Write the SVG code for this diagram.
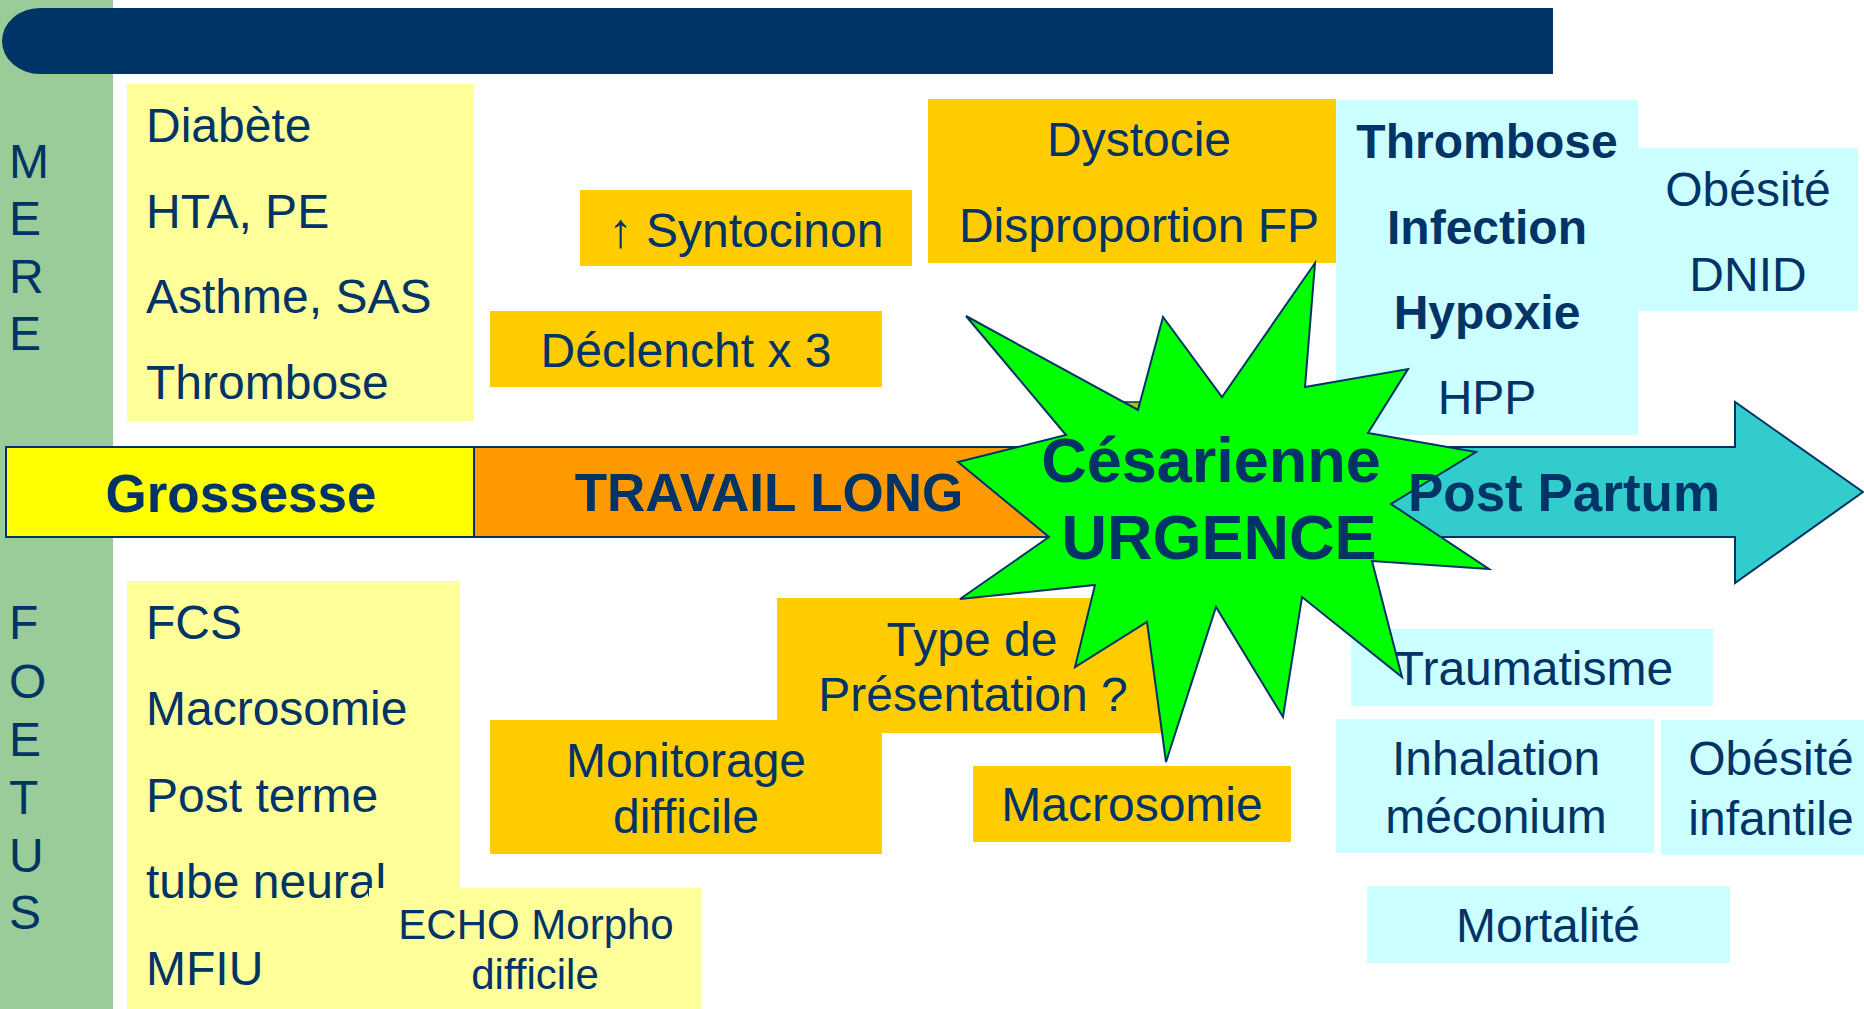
<svg xmlns="http://www.w3.org/2000/svg" width="1864" height="1009" viewBox="0 0 1864 1009">
<defs>
<style>
text{font-family:"Liberation Sans",Arial,sans-serif;fill:#003366;}
.t{font-size:48px;}
.c{font-size:48px;text-anchor:middle;}
.b{font-size:48px;font-weight:bold;text-anchor:middle;}
.lab{font-size:53px;font-weight:bold;text-anchor:middle;}
.side{font-size:48px;}
.ly{fill:#FFFF99;}
.or{fill:#FFCC00;}
.cy{fill:#CCFFFF;}
</style>
</defs>
<rect x="0" y="0" width="1864" height="1009" fill="#FFFFFF"/>
<g id="side-strip">
<rect x="0" y="0" width="113" height="1009" fill="#99CC99"/>
</g>
<g id="title-bar">
<path d="M40 8 H1553 V74 H40 A38 33 0 0 1 2 41 A38 33 0 0 1 40 8 Z" fill="#003366"/>
</g>
<g id="label-mere">
<text class="side" x="9" y="178">M</text>
<text class="side" x="9" y="235">E</text>
<text class="side" x="9" y="293">R</text>
<text class="side" x="9" y="350">E</text>
</g>
<g id="label-foetus">
<text class="side" x="9" y="639">F</text>
<text class="side" x="9" y="698">O</text>
<text class="side" x="9" y="756">E</text>
<text class="side" x="9" y="814">T</text>
<text class="side" x="9" y="872">U</text>
<text class="side" x="9" y="929">S</text>
</g>
<g id="mere-risques">
<rect class="ly" x="127" y="84" width="347" height="337"/>
<text class="t" x="146" y="142">Diabète</text>
<text class="t" x="146" y="228">HTA, PE</text>
<text class="t" x="146" y="313">Asthme, SAS</text>
<text class="t" x="146" y="399">Thrombose</text>
</g>
<g id="foetus-risques">
<rect class="ly" x="127" y="581" width="333" height="428"/>
<text class="t" x="146" y="639">FCS</text>
<text class="t" x="146" y="725">Macrosomie</text>
<text class="t" x="146" y="812">Post terme</text>
<text class="t" x="146" y="898">tube neural</text>
<text class="t" x="146" y="985">MFIU</text>
</g>
<g id="echo-morpho">
<rect class="ly" x="369" y="888" width="332" height="121"/>
<text style="font-size:42px;text-anchor:middle" x="536" y="939">ECHO Morpho</text>
<text style="font-size:42px;text-anchor:middle" x="535" y="989">difficile</text>
</g>
<g id="syntocinon">
<rect class="or" x="580" y="190" width="332" height="76"/>
<text class="c" x="746" y="247">↑ Syntocinon</text>
</g>
<g id="declencht">
<rect class="or" x="490" y="311" width="392" height="76"/>
<text class="c" x="686" y="367">Déclencht x 3</text>
</g>
<g id="dystocie">
<rect class="or" x="928" y="99" width="408" height="164"/>
<text class="c" x="1139" y="156">Dystocie</text>
<text class="c" x="1139" y="242">Disproportion FP</text>
</g>
<g id="type-presentation">
<rect class="or" x="777" y="598" width="392" height="135"/>
<text class="c" x="972" y="656">Type de</text>
<text class="c" x="973" y="711">Présentation ?</text>
</g>
<g id="monitorage">
<rect class="or" x="490" y="720" width="392" height="134"/>
<text class="c" x="686" y="777">Monitorage</text>
<text class="c" x="686" y="833">difficile</text>
</g>
<g id="macrosomie-travail">
<rect class="or" x="973" y="766" width="318" height="76"/>
<text class="c" x="1132" y="821">Macrosomie</text>
</g>
<g id="mere-postpartum">
<rect class="cy" x="1336" y="100" width="302" height="335"/>
<text class="b" x="1487" y="158">Thrombose</text>
<text class="b" x="1487" y="244">Infection</text>
<text class="b" x="1487" y="329">Hypoxie</text>
<text class="c" x="1487" y="414">HPP</text>
</g>
<g id="mere-long-terme">
<rect class="cy" x="1638" y="148" width="220" height="163"/>
<text class="c" x="1748" y="206">Obésité</text>
<text class="c" x="1748" y="291">DNID</text>
</g>
<g id="traumatisme">
<rect class="cy" x="1351" y="629" width="362" height="77"/>
<text class="c" x="1534" y="685">Traumatisme</text>
</g>
<g id="inhalation">
<rect class="cy" x="1336" y="719" width="318" height="134"/>
<text class="c" x="1496" y="775">Inhalation</text>
<text class="c" x="1496" y="833">méconium</text>
</g>
<g id="obesite-infantile">
<rect class="cy" x="1661" y="720" width="203" height="135"/>
<text class="c" x="1771" y="775">Obésité</text>
<text class="c" x="1771" y="835">infantile</text>
</g>
<g id="mortalite">
<rect class="cy" x="1367" y="886" width="363" height="77"/>
<text class="c" x="1548" y="942">Mortalité</text>
</g>
<g id="timeline">
<rect x="6" y="447" width="468" height="90" fill="#FFFF00" stroke="#003366" stroke-width="2"/>
<rect x="474" y="447" width="606" height="90" fill="#FF9900" stroke="#003366" stroke-width="2"/>
<path d="M1380 447 H1735 V402 L1863 492 L1735 583 V537 H1380 Z" fill="#33CCCC" stroke="#003366" stroke-width="2"/>
<text class="lab" x="241" y="512">Grossesse</text>
<text class="lab" x="769" y="511">TRAVAIL LONG</text>
</g>
<g id="connectors"></g>
<g id="cesarienne">
<polygon points="1123,402 1140,402 1138,410" fill="#99CC00" stroke="#003366" stroke-width="1.5"/>
<polygon points="966,316 1138,410 1163,317 1222,397 1315,263 1305,387 1408,369 1368,433 1476,452 1391,504 1489,569 1372,561 1402,677 1302,597 1283,717 1216,607 1166,762 1147,622 1075,667 1095,585 960,599 1049,537 958,462 1066,435" fill="#00FF00" stroke="#003366" stroke-width="2" stroke-linejoin="miter"/>
<text style="font-size:63px;font-weight:bold;text-anchor:middle" x="1211" y="482">Césarienne</text>
<text style="font-size:63px;font-weight:bold;text-anchor:middle" x="1219" y="559">URGENCE</text>
</g>
<g id="post-partum">
<text class="lab" x="1564" y="511">Post Partum</text>
</g>
</svg>
